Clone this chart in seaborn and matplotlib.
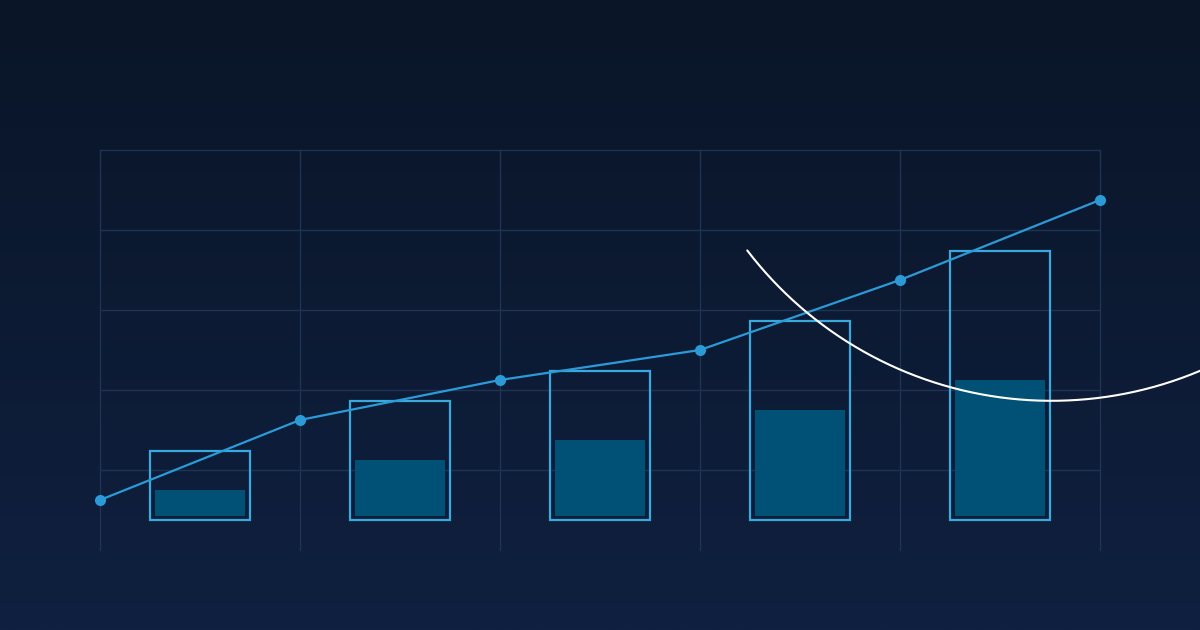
import numpy as np
import pandas as pd
import matplotlib
matplotlib.use("Agg")
import matplotlib.pyplot as plt
from matplotlib.colors import LinearSegmentedColormap
import seaborn as sns

# ---- data ----
bar_positions = [0.5, 1.5, 2.5, 3.5, 4.5]
outer_values = [69, 119, 149, 199, 269]
inner_values = [30, 60, 80, 110, 140]
line_x = [0, 1, 2, 3, 4, 5]
line_values = [20, 100, 140, 170, 240, 320]
grid_y = [50, 130, 210, 290, 370]
grid_x = [0, 1, 2, 3, 4, 5]

# ---- styles ----
BG_TOP = "#0a1527"
BG_BOTTOM = "#0f2040"
GRID = "#1f3352"
OUTLINE = "#3aa9de"
FILL = "#015176"
LINE = "#2b9bd8"
INSET = 4

sns.set_theme(style="dark")

fig = plt.figure(figsize=(12, 6.3), dpi=100)

# background gradient
bg = fig.add_axes([0, 0, 1, 1], zorder=-10)
cmap = LinearSegmentedColormap.from_list("bg", [BG_TOP, BG_BOTTOM])
bg.imshow(np.linspace(0, 1, 256).reshape(-1, 1), aspect="auto", cmap=cmap,
          extent=[0, 1, 0, 1], origin="upper")
bg.set_axis_off()

ax = fig.add_axes([100 / 1200, 80 / 630, 1000 / 1200, 400 / 630], zorder=1)
ax.set_facecolor("none")

df_bars = pd.DataFrame({"pos": bar_positions, "outer": outer_values,
                        "inner": np.array(inner_values) - INSET})
df_line = pd.DataFrame({"x": line_x, "y": line_values})

sns.barplot(data=df_bars, x="pos", y="inner", native_scale=True, width=0.45,
            color=FILL, bottom=INSET, linewidth=0, saturation=1, ax=ax, zorder=2)
n_inner = len(ax.patches)
sns.barplot(data=df_bars, x="pos", y="outer", native_scale=True, width=0.5,
            color=OUTLINE, linewidth=1.6, saturation=1, ax=ax, zorder=3)
for p in ax.patches[n_inner:]:
    p.set_facecolor("none")
    p.set_edgecolor(OUTLINE)
    p.set_linewidth(1.6)
for p in ax.patches[:n_inner]:
    p.set_facecolor(FILL)
    p.set_edgecolor("none")

sns.lineplot(data=df_line, x="x", y="y", color=LINE, linewidth=1.6,
             marker="o", markersize=8, markeredgewidth=0, ax=ax, zorder=4,
             clip_on=False)

ax.set_xlim(0, 5)
ax.set_ylim(-30, 370)
ax.set_xticks(grid_x)
ax.set_yticks(grid_y)
ax.set_xticklabels([])
ax.set_yticklabels([])
ax.tick_params(length=0)
ax.grid(True, color=GRID, linewidth=1)
ax.set_axisbelow(True)
for gl in ax.get_xgridlines() + ax.get_ygridlines():
    gl.set_clip_on(False)
for s in ax.spines.values():
    s.set_visible(False)
ax.set_xlabel("")
ax.set_ylabel("")

# decorative arc overlay (figure pixel coords)
ov = fig.add_axes([0, 0, 1, 1], zorder=5)
ov.set_facecolor("none")
ov.set_xlim(0, 1200)
ov.set_ylim(630, 0)
ov.set_axis_off()
cx, cy, r = 1051.5, 17.8, 383
theta = np.radians(np.linspace(142.6, 60, 400))
ov.plot(cx + r * np.cos(theta), cy + r * np.sin(theta), color="white", linewidth=1.5)

fig.savefig("out.png", dpi=100)
